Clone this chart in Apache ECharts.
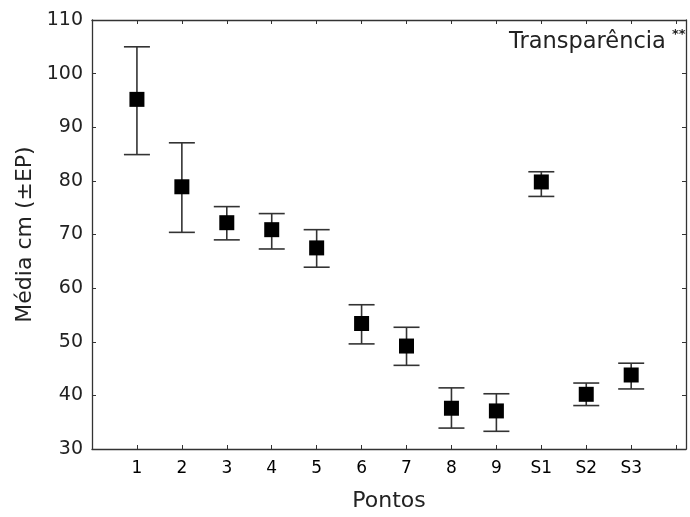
<!DOCTYPE html>
<html>
<head>
<meta charset="utf-8">
<script src="https://cdn.jsdelivr.net/npm/echarts@6/dist/echarts.min.js"></script>
<style>
    html, body { margin: 0; padding: 0; background: #fff; }
    #grafico { width: 690px; height: 517px; }
</style>
</head>
<body>
<div id="grafico"></div>
<script>
    // pontos de coleta
    var pontos = ['1', '2', '3', '4', '5', '6', '7', '8', '9', 'S1', 'S2', 'S3'];
    // média e limites (±EP)
    var medias = [95.2, 78.9, 72.2, 70.9, 67.5, 53.4, 49.2, 37.6, 37.1, 79.8, 40.2, 43.8];
    var limSup = [105.0, 87.1, 75.2, 73.9, 70.9, 56.9, 52.7, 41.4, 40.3, 81.7, 42.3, 46.0];
    var limInf = [84.9, 70.4, 69.0, 67.3, 63.9, 49.6, 45.6, 33.9, 33.3, 77.1, 38.1, 41.2];
    var yTicks = [30, 40, 50, 60, 70, 80, 90, 100, 110];

    var fonte = 'DejaVu Sans';
    var cor = '#333';

    var pontosData = [];
    var barrasData = [];
    for (var i = 0; i < pontos.length; i++) {
        pontosData.push([i + 1, medias[i]]);
        barrasData.push([i + 1, limInf[i], limSup[i]]);
    }

    var rotuloX = function (v) {
        var r = Math.round(v);
        if (Math.abs(v - r) > 1e-6) return '';
        return pontos[r - 1] || '';
    };

    var myChart = echarts.init(document.getElementById('grafico'));

    var option = {
        animation: false,
        grid: { left: 92, top: 20, right: 4, bottom: 67 },
        xAxis: [{
            type: 'value',
            min: 0,
            max: 13.22,
            interval: 1,
            name: 'Pontos',
            nameLocation: 'middle',
            nameGap: 41,
            nameTextStyle: { fontFamily: fonte, fontSize: 22, color: '#222' },
            axisLine: { show: true, onZero: false, lineStyle: { color: cor, width: 1.3 } },
            axisTick: { show: true, inside: true, length: 4, lineStyle: { color: cor } },
            axisLabel: { formatter: rotuloX, fontFamily: fonte, fontSize: 17, color: '#000', margin: 11 },
            splitLine: { show: false }
        }, {
            type: 'value',
            position: 'top',
            min: 0,
            max: 13.22,
            interval: 1,
            axisLine: { show: true, onZero: false, lineStyle: { color: cor, width: 1.3 } },
            axisTick: { show: true, inside: true, length: 4, lineStyle: { color: cor } },
            axisLabel: { show: false },
            splitLine: { show: false }
        }],
        yAxis: [{
            type: 'value',
            min: yTicks[0],
            max: yTicks[yTicks.length - 1],
            interval: 10,
            name: 'Média cm (±EP)',
            nameLocation: 'middle',
            nameRotate: 90,
            nameGap: 56,
            nameTextStyle: { fontFamily: fonte, fontSize: 22, color: '#222' },
            axisLine: { show: true, onZero: false, lineStyle: { color: cor, width: 1.3 } },
            axisTick: { show: true, inside: true, length: 4, lineStyle: { color: cor } },
            axisLabel: { fontFamily: fonte, fontSize: 19, color: '#222', margin: 9 },
            splitLine: { show: false }
        }, {
            type: 'value',
            position: 'right',
            min: yTicks[0],
            max: yTicks[yTicks.length - 1],
            interval: 10,
            axisLine: { show: true, onZero: false, lineStyle: { color: cor, width: 1.3 } },
            axisTick: { show: true, inside: true, length: 4, lineStyle: { color: cor } },
            axisLabel: { show: false },
            splitLine: { show: false }
        }],
        graphic: [{
            type: 'text',
            left: 509,
            top: 31,
            style: { text: 'Transparência', font: '22.5px "DejaVu Sans"', fill: '#222' }
        }, {
            type: 'text',
            left: 672,
            top: 28,
            style: { text: '**', font: 'bold 13px "DejaVu Sans"', fill: '#222' }
        }],
        series: [{
            type: 'custom',
            xAxisIndex: 0,
            yAxisIndex: 0,
            data: barrasData,
            z: 2,
            renderItem: function (params, api) {
                var x = api.value(0);
                var baixo = api.coord([x, api.value(1)]);
                var alto = api.coord([x, api.value(2)]);
                var w = 13;
                var estilo = { stroke: cor, lineWidth: 1.6 };
                return {
                    type: 'group',
                    children: [
                        { type: 'line', shape: { x1: alto[0], y1: alto[1], x2: baixo[0], y2: baixo[1] }, style: estilo },
                        { type: 'line', shape: { x1: alto[0] - w, y1: alto[1], x2: alto[0] + w, y2: alto[1] }, style: estilo },
                        { type: 'line', shape: { x1: baixo[0] - w, y1: baixo[1], x2: baixo[0] + w, y2: baixo[1] }, style: estilo }
                    ]
                };
            }
        }, {
            type: 'scatter',
            xAxisIndex: 0,
            yAxisIndex: 0,
            data: pontosData,
            symbol: 'rect',
            symbolSize: 15,
            z: 3,
            itemStyle: { color: '#000', opacity: 1 }
        }]
    };

    myChart.setOption(option);
</script>
</body>
</html>
